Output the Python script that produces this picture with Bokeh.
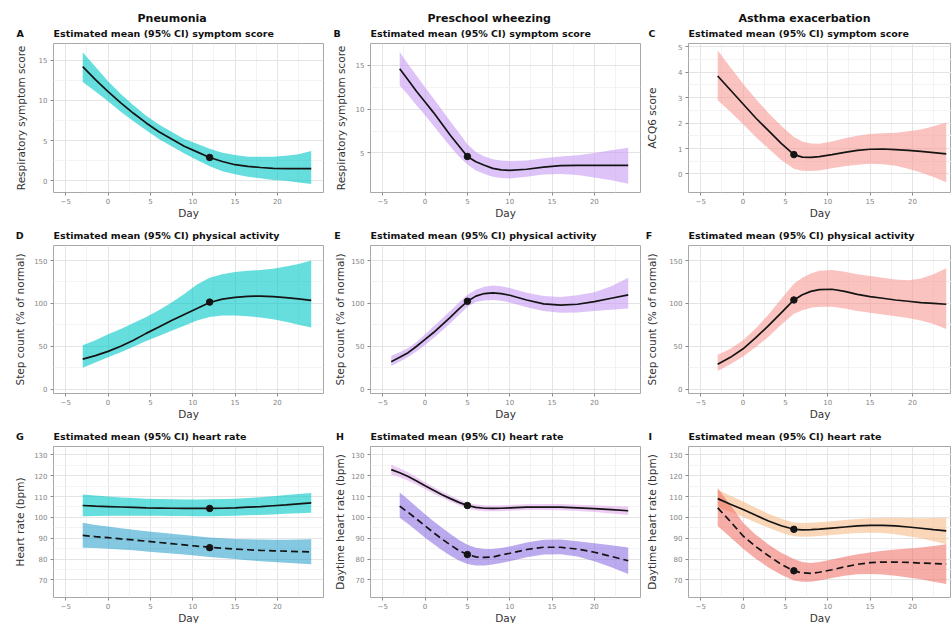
from bokeh.plotting import figure
from bokeh.models import Range1d, FixedTicker, Title
from bokeh.layouts import column, row
from bokeh.embed import file_html
from bokeh.resources import INLINE

FONT = "DejaVu Sans"

# ---------------- data ----------------
x_ticks = [-5, 0, 5, 10, 15, 20]
x_minor = [-2.5, 2.5, 7.5, 12.5, 17.5, 22.5]

# Pneumonia
pn_days = [-3, -1.5, 0, 1.5, 3, 4.5, 6, 7.5, 9, 10.5, 12, 13.5, 15, 16.5, 18, 19.5, 21, 22.5, 24]
pn_sym_mean = [14.2, 12.6, 11.1, 9.7, 8.4, 7.2, 6.1, 5.2, 4.3, 3.6, 2.9, 2.4, 2.0, 1.8, 1.65, 1.55, 1.5, 1.5, 1.5]
pn_sym_lo = [12.3, 11.1, 9.9, 8.6, 7.4, 6.3, 5.2, 4.3, 3.4, 2.6, 1.8, 1.2, 0.8, 0.5, 0.3, 0.1, 0.0, -0.2, -0.4]
pn_sym_hi = [16.0, 14.2, 12.4, 10.8, 9.4, 8.1, 7.0, 6.1, 5.2, 4.6, 4.0, 3.5, 3.2, 3.0, 3.0, 3.0, 3.1, 3.3, 3.7]
pn_act_mean = [35, 39, 44, 50, 57, 65, 72.5, 80, 87, 94, 101, 105, 107, 108.3, 108.5, 108, 106.8, 105.3, 103.5]
pn_act_lo = [25, 31, 37, 43, 49.5, 56, 62, 68, 74, 80, 84, 86, 86, 85, 83.5, 81.5, 78.5, 75, 72]
pn_act_hi = [51, 57, 64, 70, 77, 84, 92, 101, 111, 122, 130, 134, 136.7, 138, 139, 140.5, 143, 146, 150]
pn_hr1_mean = [105.7, 105.4, 105.2, 105.0, 104.8, 104.6, 104.5, 104.4, 104.3, 104.3, 104.3, 104.4, 104.6, 104.9, 105.2, 105.6, 106.0, 106.5, 107.0]
pn_hr1_lo = [100.6, 100.7, 100.8, 100.8, 100.8, 100.8, 100.8, 100.7, 100.7, 100.6, 100.6, 100.7, 100.8, 101.0, 101.2, 101.4, 101.7, 102.0, 102.2]
pn_hr1_hi = [111.0, 110.5, 110.0, 109.6, 109.3, 109.0, 108.8, 108.7, 108.6, 108.6, 108.7, 108.8, 109.0, 109.3, 109.7, 110.2, 110.7, 111.2, 111.7]
pn_hr2_mean = [91.4, 90.8, 90.3, 89.7, 89.2, 88.6, 88.0, 87.4, 86.8, 86.2, 85.7, 85.2, 84.8, 84.5, 84.2, 84.0, 83.8, 83.6, 83.5]
pn_hr2_lo = [85.5, 85.3, 85.0, 84.6, 84.2, 83.7, 83.2, 82.7, 82.2, 81.6, 81.0, 80.5, 80.0, 79.5, 79.0, 78.6, 78.3, 77.9, 77.6]
pn_hr2_hi = [97.4, 96.4, 95.6, 94.8, 94.1, 93.4, 92.8, 92.2, 91.6, 91.0, 90.4, 90.0, 89.7, 89.5, 89.4, 89.3, 89.3, 89.4, 89.5]
pn_dot_day = 12
pn_dot_sym, pn_dot_act, pn_dot_hr1, pn_dot_hr2 = 2.9, 101.5, 104.3, 85.5

# Preschool wheezing
pw_days = [-3, -2, -1, 0, 1, 2, 3, 4, 5, 6, 7, 8, 9, 10, 12, 14, 16, 18, 20, 22, 24]
pw_days_long = [-4, -3, -2, -1, 0, 1, 2, 3, 4, 5, 6, 7, 8, 9, 10, 12, 14, 16, 18, 20, 22, 24]
pw_sym_mean = [14.6, 13.3, 12.0, 10.8, 9.6, 8.3, 7.0, 5.8, 4.6, 4.0, 3.6, 3.25, 3.08, 3.03, 3.15, 3.4, 3.55, 3.6, 3.6, 3.6, 3.6]
pw_sym_lo = [12.7, 11.6, 10.4, 9.3, 8.1, 6.9, 5.7, 4.6, 3.7, 3.0, 2.6, 2.3, 2.15, 2.1, 2.3, 2.55, 2.6, 2.5, 2.2, 1.9, 1.5]
pw_sym_hi = [16.5, 15.1, 13.8, 12.5, 11.2, 9.9, 8.6, 7.3, 6.0, 5.1, 4.6, 4.3, 4.15, 4.1, 4.15, 4.4, 4.6, 4.75, 5.0, 5.3, 5.6]
pw_act_mean = [32, 37, 42.5, 50, 58, 66, 75, 84, 93.5, 102.5, 108.5, 111.5, 112.3, 111.5, 109.5, 104, 99.5, 98, 99, 102, 106, 110]
pw_act_lo = [27, 32, 37.5, 44, 51.5, 59.5, 68, 77, 86.5, 96, 101.5, 103.5, 104, 103, 101, 95.5, 91, 89, 89.5, 91, 92.5, 94]
pw_act_hi = [39, 43, 48, 55, 64, 73, 82, 91.5, 101, 110, 116, 119.5, 121, 120, 118, 112.5, 108.5, 107.5, 109.5, 113, 120, 130]
pw_hr1_mean = [122.9, 121.4, 119.6, 117.5, 115.2, 113.0, 110.9, 109.0, 107.2, 105.7, 104.8, 104.4, 104.3, 104.4, 104.6, 104.9, 105.0, 104.9, 104.6, 104.2, 103.7, 103.2]
pw_hr1_lo = [120.5, 119.2, 117.6, 115.7, 113.5, 111.4, 109.4, 107.5, 105.8, 104.3, 103.4, 103.0, 102.9, 103.0, 103.2, 103.5, 103.6, 103.4, 103.1, 102.6, 101.9, 101.2]
pw_hr1_hi = [125.3, 123.6, 121.6, 119.3, 116.9, 114.6, 112.4, 110.5, 108.6, 107.1, 106.2, 105.8, 105.7, 105.8, 106.0, 106.3, 106.4, 106.4, 106.1, 105.8, 105.5, 105.2]
pw_hr2_mean = [105.4, 102.4, 99.2, 95.9, 92.7, 89.6, 86.8, 84.1, 82.2, 81.1, 80.8, 81.0, 82.0, 82.8, 84.6, 85.7, 85.7, 84.8, 83.3, 81.3, 79.2]
pw_hr2_lo = [99.8, 96.8, 93.6, 90.3, 87.2, 84.3, 81.6, 79.3, 77.7, 77.0, 77.0, 77.4, 78.1, 79.0, 80.9, 82.2, 82.3, 81.2, 79.0, 76.1, 72.9]
pw_hr2_hi = [112.0, 108.6, 105.0, 101.5, 98.2, 95.0, 92.0, 89.2, 86.9, 85.4, 84.8, 84.8, 85.3, 86.1, 88.0, 89.3, 89.4, 88.6, 87.6, 86.6, 85.6]
pw_dot_day = 5
pw_dot_sym, pw_dot_act, pw_dot_hr1, pw_dot_hr2 = 4.6, 102.5, 105.7, 82.2

# Asthma exacerbation
ae_days = [-3, -1.5, 0, 1.5, 3, 4.5, 6, 7, 8, 9, 10.5, 12, 13.5, 15, 16.5, 18, 19.5, 21, 22.5, 24]
ae_sym_mean = [3.85, 3.3, 2.75, 2.2, 1.7, 1.2, 0.76, 0.66, 0.65, 0.68, 0.76, 0.85, 0.93, 0.97, 0.98, 0.96, 0.93, 0.89, 0.84, 0.79]
ae_sym_lo = [2.9, 2.45, 1.95, 1.45, 1.0, 0.55, 0.2, 0.13, 0.12, 0.14, 0.22, 0.3, 0.36, 0.4, 0.38, 0.32, 0.2, 0.06, -0.12, -0.33]
ae_sym_hi = [4.85, 4.2, 3.55, 2.95, 2.4, 1.9, 1.45, 1.28, 1.2, 1.19, 1.28, 1.4, 1.5, 1.57, 1.6, 1.62, 1.68, 1.75, 1.88, 2.02]
ae_act_mean = [29, 37, 47, 60, 74, 89, 104, 110, 114, 116, 116.5, 114, 110.5, 108, 106, 104, 102.5, 101, 100, 99]
ae_act_lo = [21, 29, 38, 49, 61, 75, 88, 92, 95, 96, 96, 94, 91, 89, 87, 85, 83, 80, 76, 70]
ae_act_hi = [40, 47, 57, 71, 87, 105, 123, 130, 135, 138, 139, 137, 134, 132, 130, 128, 127, 129, 134, 141]
ae_hr1_mean = [109, 106.3, 103.8, 101, 98.3, 96.0, 94.3, 94.0, 94.1, 94.4, 94.9, 95.4, 95.9, 96.2, 96.2, 95.9, 95.4, 94.8, 94.1, 93.5]
ae_hr1_lo = [105.2, 102.6, 100.2, 97.6, 95.0, 92.7, 91.0, 90.7, 90.8, 91.1, 91.6, 92.1, 92.5, 92.7, 92.5, 91.9, 91.0, 90.0, 88.6, 87.1]
ae_hr1_hi = [113.3, 110.4, 107.6, 104.6, 101.8, 99.4, 97.6, 97.3, 97.4, 97.7, 98.2, 98.7, 99.2, 99.6, 99.8, 99.8, 99.7, 99.6, 99.7, 99.8]
ae_hr2_mean = [104.6, 98.0, 91.1, 86.0, 81.6, 77.5, 74.4, 73.4, 73.2, 73.7, 74.9, 76.3, 77.5, 78.3, 78.6, 78.6, 78.4, 78.1, 77.9, 77.6]
ae_hr2_lo = [95.9, 90.5, 85.0, 80.2, 76.0, 72.5, 69.8, 69.1, 69.2, 69.8, 70.9, 72.0, 72.7, 72.9, 72.6, 72.0, 71.2, 70.3, 69.2, 68.1]
ae_hr2_hi = [114.0, 106.0, 97.5, 91.7, 87.0, 83.0, 80.0, 78.6, 78.2, 78.6, 79.8, 81.1, 82.3, 83.2, 84.0, 84.6, 85.1, 85.6, 86.3, 87.1]
ae_dot_day = 6
ae_dot_sym, ae_dot_act, ae_dot_hr1, ae_dot_hr2 = 0.76, 104.0, 94.3, 74.4

headers = ["Pneumonia", "Preschool wheezing", "Asthma exacerbation"]
sym_title = "Estimated mean (95% CI) symptom score"
act_title = "Estimated mean (95% CI) physical activity"
hr_title = "Estimated mean (95% CI) heart rate"

# ---------------- styling / layout ----------------
C_PN = "#00c8c8"; C_PN2 = "#0a92c3"
C_PW = "#c89bf3"; C_PW1 = "#e3acee"; C_PW2 = "#7a55e0"
C_AE = "#f79b96"; C_AE1 = "#f7bc8a"; C_AE2 = "#ee6961"
LINE = "#141414"

COLS = [dict(ml=53, fw=270, mr=2, xr=(-6.45, 25.45), ylab_c=31, let_c=33, head_off=84),
        dict(ml=45, fw=270, mr=3, xr=(-6.45, 25.45), ylab_c=28, let_c=32, head_off=57),
        dict(ml=45, fw=263, mr=0, xr=(-6.45, 24.62), ylab_c=34, let_c=38, head_off=50)]
ROWS = [dict(mt=43, fh=149, mb=32),
        dict(mt=21, fh=148, mb=32),
        dict(mt=21, fh=151, mb=26)]

TICK_FS = 7.0
NBSP = "\u00a0"
BOLD_W = {"A": .774, "B": .762, "C": .734, "D": .830, "E": .683, "F": .683,
          "G": .821, "H": .837, "I": .372}
SPACE_W = 0.348
TITLE_FS = 9.5


def panel(ci, ri, letter, title, ylabel, yr, yticks, bands, lines, dots):
    c, r = COLS[ci], ROWS[ri]
    p = figure(frame_width=c["fw"], frame_height=r["fh"], title=None,
               min_border_left=c["ml"], min_border_right=c["mr"],
               min_border_top=r["mt"], min_border_bottom=r["mb"],
               x_range=Range1d(*c["xr"]), y_range=Range1d(*yr),
               output_backend="svg", toolbar_location=None)
    p.background_fill_color = "white"
    p.border_fill_color = "white"
    p.outline_line_color = "#a8a8a8"
    p.outline_line_width = 1

    p.xaxis.ticker = FixedTicker(ticks=x_ticks, minor_ticks=x_minor)
    ymin = [(yticks[i] + yticks[i + 1]) / 2 for i in range(len(yticks) - 1)]
    p.yaxis.ticker = FixedTicker(ticks=yticks, minor_ticks=ymin)
    p.xgrid.grid_line_color = "#e4e4e4"
    p.ygrid.grid_line_color = "#e4e4e4"
    p.xgrid.minor_grid_line_color = "#f3f3f3"
    p.ygrid.minor_grid_line_color = "#f3f3f3"

    for ax in (p.xaxis[0], p.yaxis[0]):
        ax.axis_line_color = None
        ax.major_tick_line_color = "#8a8a8a"
        ax.major_tick_out = 3
        ax.major_tick_in = 0
        ax.minor_tick_line_color = None
        ax.major_label_text_font = FONT
        ax.major_label_text_font_size = f"{TICK_FS}px"
        ax.major_label_text_color = "#858585"
        ax.major_label_standoff = 2
        ax.axis_label_text_font = FONT
        ax.axis_label_text_font_size = "10.5px"
        ax.axis_label_text_font_style = "normal"
        ax.axis_label_text_color = "#333333"

    p.xaxis.axis_label = "Day"
    p.xaxis.major_label_standoff = 1
    p.xaxis.axis_label_standoff = 0
    p.yaxis.axis_label = ylabel
    maxchars = max(len(str(t)) for t in yticks)
    p.yaxis.axis_label_standoff = max(0, int(round(c["ylab_c"] - 13 - maxchars * 0.636 * TICK_FS)))

    for (xs, lo, hi, col, alpha) in bands:
        p.varea(x=xs, y1=lo, y2=hi, fill_color=col, fill_alpha=alpha)
    for (xs, ys, dash) in lines:
        p.line(xs, ys, line_color=LINE, line_width=1.7, line_dash=dash)
    for (dx, dy) in dots:
        p.scatter([dx], [dy], size=6.5, color=LINE)

    # panel letter + panel title on one line, title text starting at the frame's left edge
    lw = BOLD_W[letter] * TITLE_FS
    sw = SPACE_W * TITLE_FS
    n = max(1, int(round((c["let_c"] - lw / 2) / sw)))
    t = Title(text=letter + NBSP * n + title, align="left", offset=-(lw + n * sw),
              vertical_align="top",
              text_font=FONT, text_font_size=f"{TITLE_FS}px", text_font_style="bold",
              text_color="#111111", standoff=6)
    p.add_layout(t, "above")
    if ri == 0:
        h = Title(text=headers[ci], align="left", offset=c["head_off"],
                  text_font=FONT, text_font_size="11px", text_font_style="bold",
                  text_color="#111111", standoff=0)
        p.add_layout(h, "above")
    return p


YR_A = (-1.46, 17.09)
YR_B = (0.5, 17.47)
YR_C = (-0.73, 5.13)
YR_ACT = (-5.2, 167.6)
YR_HR = (61.6, 134.0)
ACT_TICKS = [0, 50, 100, 150]
HR_TICKS = [70, 80, 90, 100, 110, 120, 130]

pA = panel(0, 0, "A", sym_title, "Respiratory symptom score", YR_A, [0, 5, 10, 15],
           [(pn_days, pn_sym_lo, pn_sym_hi, C_PN, 0.6)],
           [(pn_days, pn_sym_mean, "solid")], [(pn_dot_day, pn_dot_sym)])
pB = panel(1, 0, "B", sym_title, "Respiratory symptom score", YR_B, [5, 10, 15],
           [(pw_days, pw_sym_lo, pw_sym_hi, C_PW, 0.6)],
           [(pw_days, pw_sym_mean, "solid")], [(pw_dot_day, pw_dot_sym)])
pC = panel(2, 0, "C", sym_title, "ACQ6 score", YR_C, [0, 1, 2, 3, 4, 5],
           [(ae_days, ae_sym_lo, ae_sym_hi, C_AE, 0.6)],
           [(ae_days, ae_sym_mean, "solid")], [(ae_dot_day, ae_dot_sym)])
pD = panel(0, 1, "D", act_title, "Step count (% of normal)", YR_ACT, ACT_TICKS,
           [(pn_days, pn_act_lo, pn_act_hi, C_PN, 0.6)],
           [(pn_days, pn_act_mean, "solid")], [(pn_dot_day, pn_dot_act)])
pE = panel(1, 1, "E", act_title, "Step count (% of normal)", YR_ACT, ACT_TICKS,
           [(pw_days_long, pw_act_lo, pw_act_hi, C_PW, 0.6)],
           [(pw_days_long, pw_act_mean, "solid")], [(pw_dot_day, pw_dot_act)])
pF = panel(2, 1, "F", act_title, "Step count (% of normal)", YR_ACT, ACT_TICKS,
           [(ae_days, ae_act_lo, ae_act_hi, C_AE, 0.6)],
           [(ae_days, ae_act_mean, "solid")], [(ae_dot_day, ae_dot_act)])
pG = panel(0, 2, "G", hr_title, "Heart rate (bpm)", YR_HR, HR_TICKS,
           [(pn_days, pn_hr1_lo, pn_hr1_hi, C_PN, 0.6), (pn_days, pn_hr2_lo, pn_hr2_hi, C_PN2, 0.5)],
           [(pn_days, pn_hr1_mean, "solid"), (pn_days, pn_hr2_mean, "7 4")],
           [(pn_dot_day, pn_dot_hr1), (pn_dot_day, pn_dot_hr2)])
pH = panel(1, 2, "H", hr_title, "Daytime heart rate (bpm)", YR_HR, HR_TICKS,
           [(pw_days_long, pw_hr1_lo, pw_hr1_hi, C_PW1, 0.6), (pw_days, pw_hr2_lo, pw_hr2_hi, C_PW2, 0.5)],
           [(pw_days_long, pw_hr1_mean, "solid"), (pw_days, pw_hr2_mean, "7 4")],
           [(pw_dot_day, pw_dot_hr1), (pw_dot_day, pw_dot_hr2)])
pI = panel(2, 2, "I", hr_title, "Daytime heart rate (bpm)", YR_HR, HR_TICKS,
           [(ae_days, ae_hr1_lo, ae_hr1_hi, C_AE1, 0.6), (ae_days, ae_hr2_lo, ae_hr2_hi, C_AE2, 0.55)],
           [(ae_days, ae_hr1_mean, "solid"), (ae_days, ae_hr2_mean, "7 4")],
           [(ae_dot_day, ae_dot_hr1), (ae_dot_day, ae_dot_hr2)])

layout = column(row(pA, pB, pC), row(pD, pE, pF), row(pG, pH, pI))

with open("out.html", "w") as f:
    f.write(file_html(layout, INLINE, title="Symptom, activity and heart rate trajectories"))
